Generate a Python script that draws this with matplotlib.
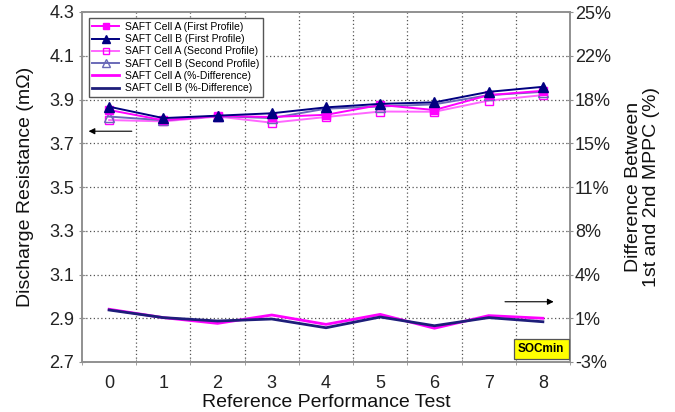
import matplotlib
matplotlib.use("Agg")
import matplotlib.pyplot as plt
import numpy as np

plt.rcParams['font.family'] = ['Liberation Sans', 'DejaVu Sans']

# Reference performance tests
rpt = [0, 1, 2, 3, 4, 5, 6, 7, 8]

# Discharge resistance (mOhm)
cell_a_first = [3.852, 3.805, 3.825, 3.820, 3.830, 3.875, 3.852, 3.920, 3.940]
cell_b_first = [3.867, 3.815, 3.826, 3.837, 3.864, 3.880, 3.887, 3.935, 3.958]
cell_a_second = [3.806, 3.800, 3.822, 3.794, 3.820, 3.845, 3.844, 3.895, 3.920]
cell_b_second = [3.822, 3.805, 3.824, 3.815, 3.858, 3.868, 3.878, 3.920, 3.935]

# Percent difference between 1st and 2nd MPPC
cell_a_diff = [1.22, 0.55, 0.09, 0.76, 0.01, 0.81, -0.30, 0.71, 0.50]
cell_b_diff = [1.16, 0.55, 0.28, 0.44, -0.26, 0.60, -0.10, 0.55, 0.22]

left_ticks = [2.7, 2.9, 3.1, 3.3, 3.5, 3.7, 3.9, 4.1, 4.3]
right_ticks = [-3, 0.5, 4, 7.5, 11, 14.5, 18, 21.5, 25]
right_labels = ['-3%', '1%', '4%', '8%', '11%', '15%', '18%', '22%', '25%']

MAG = '#FF00FF'
NAVY = '#000080'
MAG_LIGHT = '#FF66FF'
BLUE_LIGHT = '#6A6AB8'
GRID = '#555555'
SPINE = '#909090'

fig = plt.figure(figsize=(6.75, 4.12), dpi=100)
ax = fig.add_axes([82 / 675, 50 / 412, 488 / 675, 350 / 412])
ax2 = ax.twinx()

ax.set_xlim(-0.5, 8.5)
ax.set_ylim(2.7, 4.3)
ax2.set_ylim(-3, 25)

# grid
for y in left_ticks[1:-1]:
    ax.axhline(y, color=GRID, lw=0.9, ls=(0, (1, 2)), zorder=0)
for xb in np.arange(0.5, 8.0, 1.0):
    ax.axvline(xb, color=GRID, lw=0.9, ls=(0, (1, 2)), zorder=0)

ms = 6
l1, = ax.plot(rpt, cell_a_first, color=MAG, lw=1.4, marker='s', ms=ms,
              mfc=MAG, mec=MAG, label='SAFT Cell A (First Profile)', zorder=4)
l2, = ax.plot(rpt, cell_b_first, color=NAVY, lw=1.4, marker='^', ms=ms + 1,
              mfc=NAVY, mec=NAVY, label='SAFT Cell B (First Profile)', zorder=5)
l3, = ax.plot(rpt, cell_a_second, color=MAG_LIGHT, lw=1.4, marker='s', ms=ms,
              mfc='none', mec=MAG, label='SAFT Cell A (Second Profile)', zorder=3)
l4, = ax.plot(rpt, cell_b_second, color=BLUE_LIGHT, lw=1.4, marker='^', ms=ms + 1,
              mfc='none', mec=BLUE_LIGHT, label='SAFT Cell B (Second Profile)', zorder=3)

l5, = ax2.plot(rpt, cell_a_diff, color=MAG, lw=2.0, label='SAFT Cell A (%-Difference)', zorder=4)
l6, = ax2.plot(rpt, cell_b_diff, color='#1E1E7A', lw=2.0, label='SAFT Cell B (%-Difference)', zorder=5)

# axes styling
ax.set_yticks(left_ticks)
ax.set_yticklabels([f'{v:.1f}' for v in left_ticks])
ax2.set_yticks(right_ticks)
ax2.set_yticklabels(right_labels)
ax.set_xticks(rpt)
ax.set_xticklabels([str(v) for v in rpt])
ax.set_xticks(np.arange(-0.5, 9.0, 1.0), minor=True)
ax.tick_params(axis='x', which='major', length=0, labelsize=13, pad=9, colors='#222222')
ax.tick_params(axis='x', which='minor', length=5, direction='inout', color=SPINE)
ax.tick_params(axis='y', length=5, direction='inout', color=SPINE, labelsize=13,
               labelcolor='#222222', pad=3)
ax2.tick_params(axis='y', length=5, direction='inout', color=SPINE, labelsize=13,
                labelcolor='#222222', pad=1)
for a in (ax, ax2):
    for s in a.spines.values():
        s.set_color(SPINE)
        s.set_linewidth(1.2)

ax.set_xlabel('Reference Performance Test', fontsize=14, labelpad=2, color='#111111')
ax.set_ylabel('Discharge Resistance (m\u03a9)', fontsize=14, labelpad=11, color='#111111')
ax2.set_ylabel('Difference Between\n1st and 2nd MPPC (%)', fontsize=14, labelpad=10,
               color='#111111', linespacing=1.1)

# direction arrows
ax.annotate('', xy=(-0.43, 3.755), xytext=(0.47, 3.755),
            arrowprops=dict(arrowstyle='-|>', color='black', lw=0.8, mutation_scale=9))
ax2.annotate('', xy=(8.25, 1.82), xytext=(7.25, 1.82),
             arrowprops=dict(arrowstyle='-|>', color='black', lw=0.8, mutation_scale=9))

# condition tag
ax2.text(7.97, -1.95, 'SOCmin', fontsize=8.5, fontweight='bold', ha='center', va='center',
         zorder=6, bbox=dict(boxstyle='square,pad=0.35', fc='#FFFF00', ec='#555555', lw=0.9))

leg = ax2.legend(handles=[l1, l2, l3, l4, l5, l6], loc='upper left',
                 bbox_to_anchor=(0.003, 0.997), fontsize=7.5, frameon=True, fancybox=False,
                 handlelength=2.6, handletextpad=0.5, labelspacing=0.22, borderpad=0.35,
                 markerscale=0.8, framealpha=1.0)
leg.get_frame().set_edgecolor('#555555')
leg.get_frame().set_linewidth(1.0)
leg.set_zorder(10)

fig.savefig('out.png', dpi=100)
